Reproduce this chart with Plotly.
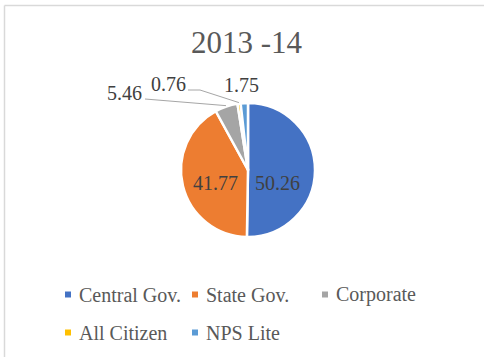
import math
import plotly.graph_objects as go

# NPS subscriber share by sector, 2013-14 (%)
categories = ["Central Gov.", "State Gov.", "Corporate", "All Citizen", "NPS Lite"]
shares = [50.26, 41.77, 5.46, 0.76, 1.75]
colors = ["#4472C4", "#ED7D31", "#A5A5A5", "#FFC000", "#5B9BD5"]
title_text = "2013 -14"

W, H = 484, 357
CX, CY, R = 248, 170, 67  # pie centre and radius, in page pixels

SERIF = "Liberation Serif"
TEXT_DARK = "#404040"
TEXT_GREY = "#595959"


def px(x):
    return x / W


def py(y):
    return 1 - y / H


def edge_point(index, r=R):
    """Pixel point on the rim at the middle angle of slice `index`."""
    total = sum(shares)
    start = sum(shares[:index]) / total
    mid = (start + shares[index] / total / 2) * 2 * math.pi
    return CX + r * math.sin(mid), CY - r * math.cos(mid)


fig = go.Figure()
fig.add_trace(go.Pie(
    labels=categories,
    values=shares,
    sort=False,
    direction="clockwise",
    rotation=0,
    marker=dict(colors=colors, line=dict(color="white", width=2.5)),
    textinfo="none",
    hoverinfo="label+value",
    showlegend=False,
    domain=dict(x=[px(CX - R), px(CX + R)], y=[py(CY + R), py(CY - R)]),
))

annotations = []
shapes = []

# title
annotations.append(dict(
    text=title_text, x=px(247), y=py(42), xref="paper", yref="paper",
    xanchor="center", yanchor="middle", showarrow=False,
    font=dict(family=SERIF, size=31, color=TEXT_GREY),
))

# value labels: inside for the two large slices, outside for the small ones
label_pos = {0: (277, 183), 1: (215, 183), 2: (125, 93), 3: (168, 84), 4: (241, 85)}
for i, (lx, ly) in label_pos.items():
    annotations.append(dict(
        text=f"{shares[i]:.2f}", x=px(lx), y=py(ly), xref="paper", yref="paper",
        xanchor="center", yanchor="middle", showarrow=False,
        font=dict(family=SERIF, size=20, color=TEXT_DARK),
    ))

# leader lines for the outside labels
leaders = {2: [(145, 99)], 3: [(188, 90), (200, 90)]}
for i, pts in leaders.items():
    ex, ey = edge_point(i, R + 1)
    path_pts = pts + [(ex, ey)]
    path = "M " + " L ".join(f"{px(x)},{py(y)}" for x, y in path_pts)
    shapes.append(dict(type="path", path=path, xref="paper", yref="paper",
                       line=dict(color="#A6A6A6", width=1)))

# legend drawn as swatches + text, two rows
legend_slots = [(68, 294.5), (195, 294.5), (325, 294.5), (68, 332.5), (195, 332.5)]
for name, col, (sx, sy) in zip(categories, colors, legend_slots):
    shapes.append(dict(type="rect", xref="paper", yref="paper",
                       x0=px(sx - 3), x1=px(sx + 3), y0=py(sy + 3), y1=py(sy - 3),
                       fillcolor=col, line=dict(width=0)))
    annotations.append(dict(
        text=name, x=px(sx + 9), y=py(sy), xref="paper", yref="paper",
        xanchor="left", yanchor="middle", showarrow=False,
        font=dict(family=SERIF, size=20, color=TEXT_GREY),
    ))

# chart frame
shapes.append(dict(type="line", xref="paper", yref="paper",
                   x0=px(4.5), x1=px(W), y0=py(5.5), y1=py(5.5),
                   line=dict(color="#D9D9D9", width=1.5)))
shapes.append(dict(type="line", xref="paper", yref="paper",
                   x0=px(4.5), x1=px(4.5), y0=py(5.5), y1=py(H),
                   line=dict(color="#D9D9D9", width=1.5)))

fig.update_layout(
    width=W, height=H,
    margin=dict(l=0, r=0, t=0, b=0),
    paper_bgcolor="white", plot_bgcolor="white",
    annotations=annotations, shapes=shapes,
)

fig.write_html("out.html")
